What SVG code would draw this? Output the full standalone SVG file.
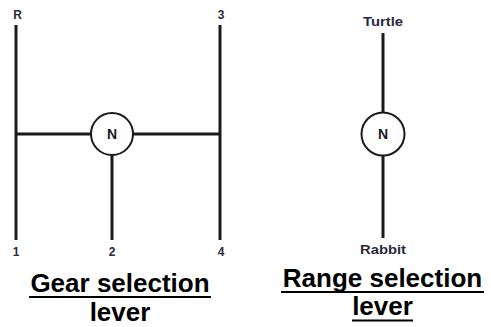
<svg xmlns="http://www.w3.org/2000/svg" width="491" height="327" viewBox="0 0 491 327">
<style>
.ln{stroke:#1a1a1a;stroke-width:3;fill:none;stroke-linecap:butt}
.ring{stroke:#1a1a1a;stroke-width:2;fill:#fff}
.lbl{font-family:"Liberation Sans",Arial,sans-serif;font-weight:bold;font-size:12px;fill:#2a2a3a;text-anchor:middle}
.n{font-family:"Liberation Sans",Arial,sans-serif;font-weight:bold;font-size:14px;fill:#1a1a1a;text-anchor:middle}
.ttl{font-family:"Liberation Sans",Arial,sans-serif;font-weight:bold;font-size:26px;fill:#000;text-anchor:middle}
.ul{stroke:#000;stroke-width:2.2}
</style>
<rect width="491" height="327" fill="#fff"/>
<g id="connectors">
<line class="ln" x1="16" y1="25" x2="16" y2="240"/>
<line class="ln" x1="220" y1="25" x2="220" y2="240"/>
<line class="ln" x1="16" y1="134" x2="91" y2="134"/>
<line class="ln" x1="133" y1="134" x2="220" y2="134"/>
<line class="ln" x1="112" y1="155" x2="112" y2="240"/>
<line class="ln" x1="383" y1="33" x2="383" y2="112"/>
<line class="ln" x1="383" y1="155" x2="383" y2="238"/>
</g>
<g id="gear-N"><circle class="ring" cx="112" cy="134" r="21"/><text class="n" x="112" y="139">N</text></g>
<g id="gear-R"><text class="lbl" x="17.5" y="19">R</text></g>
<g id="gear-3"><text class="lbl" x="221" y="19">3</text></g>
<g id="gear-1"><text class="lbl" x="16" y="256">1</text></g>
<g id="gear-2"><text class="lbl" x="112" y="256">2</text></g>
<g id="gear-4"><text class="lbl" x="221" y="256">4</text></g>
<g id="range-N"><circle class="ring" cx="383" cy="134" r="21.5"/><text class="n" x="383" y="139">N</text></g>
<g id="range-turtle"><text class="lbl" x="383" y="26" textLength="40" lengthAdjust="spacingAndGlyphs">Turtle</text></g>
<g id="range-rabbit"><text class="lbl" x="383" y="254" textLength="46" lengthAdjust="spacingAndGlyphs">Rabbit</text></g>
<g id="gear-title">
<text class="ttl" x="120" y="292">Gear selection</text>
<line class="ul" x1="29" y1="297" x2="211" y2="297"/>
<text class="ttl" x="120" y="321">lever</text>
</g>
<g id="range-title">
<text class="ttl" x="382.5" y="287">Range selection</text>
<line class="ul" x1="281" y1="292" x2="484" y2="292"/>
<text class="ttl" x="382.5" y="315">lever</text>
<line class="ul" x1="352" y1="320.5" x2="413" y2="320.5"/>
</g>
</svg>
